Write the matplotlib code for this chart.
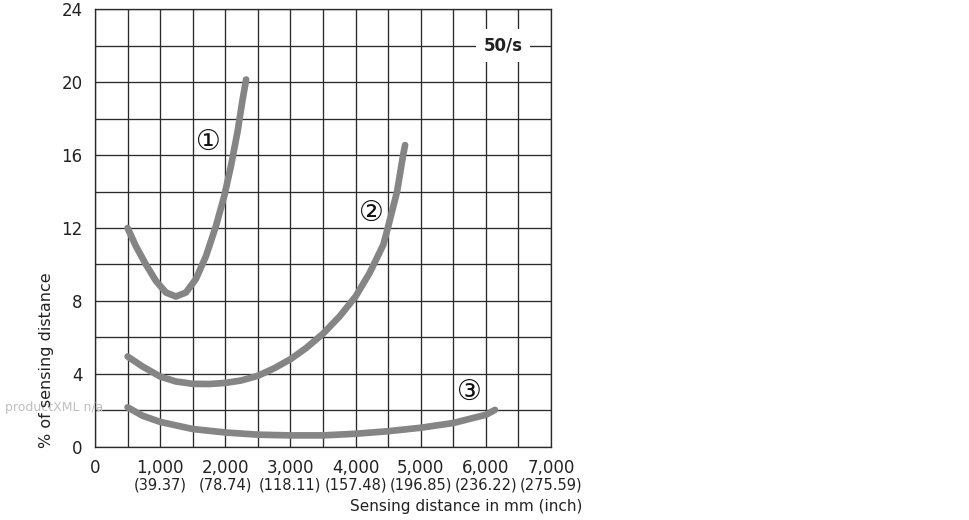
import matplotlib
matplotlib.use("Agg")
import matplotlib.pyplot as plt
from matplotlib.transforms import blended_transform_factory

# curve 1, mm -> % of sensing distance
c1_x = [500, 628, 781, 935, 1089, 1242, 1396, 1549, 1703, 1856, 1984, 2087,
        2189, 2266, 2320]
c1_y = [12.0, 11.0, 10.0, 9.1, 8.46, 8.24, 8.46, 9.2, 10.45, 12.1, 13.75, 15.4,
        17.3, 19.05, 20.15]

# curve 2
c2_x = [500, 730, 1000, 1240, 1500, 1755, 2000, 2240, 2500, 2755, 3000, 3240,
        3500, 3755, 4000, 4215, 4426, 4495, 4637, 4730, 4760]
c2_y = [4.95, 4.40, 3.85, 3.58, 3.45, 3.44, 3.50, 3.63, 3.89, 4.31, 4.80, 5.41,
        6.2, 7.15, 8.24, 9.53, 11.08, 12.0, 14.0, 16.0, 16.55]

# curve 3
c3_x = [500, 730, 1000, 1500, 2000, 2500, 3000, 3500, 4000, 4500, 5000, 5500,
        6000, 6140]
c3_y = [2.16, 1.70, 1.36, 0.97, 0.78, 0.66, 0.62, 0.62, 0.71, 0.85, 1.04, 1.30,
        1.75, 2.02]

curve_labels = ["\u2460", "\u2461", "\u2462"]
label_pos = [(1735, 16.74), (4247, 12.82), (5747, 3.02)]

x_ticks = [0, 1000, 2000, 3000, 4000, 5000, 6000, 7000]
x_tick_mm = ["0", "1,000", "2,000", "3,000", "4,000", "5,000", "6,000", "7,000"]
x_tick_inch = ["", "(39.37)", "(78.74)", "(118.11)", "(157.48)", "(196.85)",
               "(236.22)", "(275.59)"]
y_ticks = [0, 4, 8, 12, 16, 20, 24]

GRID = "#2b2b2b"
CURVE = "#858585"

fig = plt.figure(figsize=(9.7, 5.2), dpi=100)
ax = fig.add_axes([95 / 970, 73.3 / 520, 456 / 970, 437.4 / 520])

for xs, ys in [(c1_x, c1_y), (c2_x, c2_y), (c3_x, c3_y)]:
    ax.plot(xs, ys, color=CURVE, linewidth=4.8, solid_capstyle="round",
            solid_joinstyle="round", zorder=3)

for lab, (lx, ly) in zip(curve_labels, label_pos):
    ax.text(lx, ly, lab, fontsize=20, ha="center", va="center", color="#111",
            zorder=4)

ax.set_xlim(0, 7000)
ax.set_ylim(0, 24)
ax.set_xticks(x_ticks)
ax.set_xticks([500 + 1000 * i for i in range(7)], minor=True)
ax.set_yticks(y_ticks)
ax.set_yticks([2 + 4 * i for i in range(6)], minor=True)
ax.grid(True, which="both", color=GRID, linewidth=0.95)
ax.set_axisbelow(True)
for s in ax.spines.values():
    s.set_color(GRID)
    s.set_linewidth(0.95)

ax.tick_params(which="both", length=0)
ax.tick_params(axis="y", pad=9, labelsize=12, labelcolor="#222")
ax.tick_params(axis="x", pad=9, labelsize=12, labelcolor="#222")
ax.set_xticklabels(x_tick_mm)

trans = blended_transform_factory(ax.transData, ax.transAxes)
for xv, lab in zip(x_ticks, x_tick_inch):
    ax.text(xv, -0.088, lab, transform=trans, ha="center", va="center",
            fontsize=10.5, color="#222")

ax.text(6270, 22, "50/s", ha="center", va="center", fontsize=12,
        fontweight="bold", color="#222", zorder=5,
        bbox=dict(boxstyle="square,pad=0.45", facecolor="white",
                  edgecolor="none"))

fig.text(5 / 970, 1 - 408 / 520, "productXML n/a", fontsize=9,
         color="#c0c0c0", ha="left", va="center", zorder=0)
fig.text(47 / 970, 1 - 360 / 520, "% of sensing distance", rotation=90,
         fontsize=11.5, color="#222", ha="center", va="center")
fig.text(582 / 970, 1 - 507 / 520, "Sensing distance in mm (inch)",
         fontsize=11, color="#222", ha="right", va="center")

fig.savefig("out.png", dpi=100, facecolor="white")
